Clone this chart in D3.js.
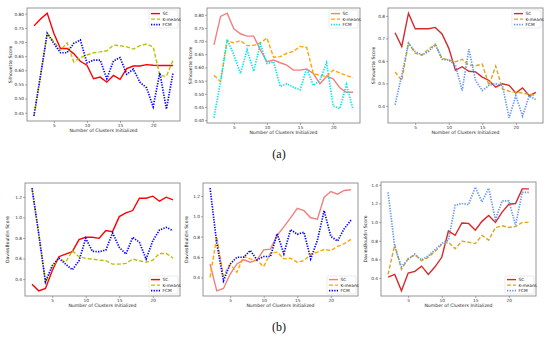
<!DOCTYPE html>
<html>
<head>
<meta charset="utf-8">
<script src="https://cdn.jsdelivr.net/npm/d3@7"></script>
<style>
  body { margin: 0; background: #fff; }
  svg { display: block; }
  .tick text { font-family: "DejaVu Sans", sans-serif; fill: #333; }
  .tick line { stroke: #333; stroke-width: 0.5; }
  .ax-label { font-family: "DejaVu Sans", sans-serif; font-size: 4.6px; fill: #222; }
  .leg text { font-family: "DejaVu Sans", sans-serif; font-size: 4.3px; fill: #222; }
  .cap { font-family: "Liberation Serif", "Times New Roman", serif; font-size: 12px; fill: #111; }
</style>
</head>
<body>
<div id="chart"></div>
<script>
/* ── data ── */
const clusters = [2, 3, 4, 5, 6, 7, 8, 9, 10, 11, 12, 13, 14, 15, 16, 17, 18, 19, 20, 21, 22, 23];
const xTicks   = [5, 10, 15, 20];
const seriesNames = ['SC', 'K-means', 'FCM'];

// (a) silhouette, dataset 1
const silA_sc  = [0.757, 0.781, 0.802, 0.731, 0.677, 0.677, 0.659, 0.632, 0.618, 0.570, 0.576, 0.558, 0.582, 0.568, 0.606, 0.615, 0.615, 0.620, 0.618, 0.617, 0.617, 0.617];
const silA_km  = [0.439, 0.582, 0.731, 0.701, 0.671, 0.697, 0.630, 0.645, 0.654, 0.662, 0.665, 0.669, 0.689, 0.687, 0.683, 0.675, 0.687, 0.693, 0.683, 0.582, 0.579, 0.636];
const silA_fcm = [0.439, 0.582, 0.731, 0.695, 0.662, 0.662, 0.695, 0.707, 0.626, 0.636, 0.636, 0.570, 0.633, 0.645, 0.586, 0.604, 0.558, 0.538, 0.471, 0.591, 0.463, 0.591];
// (a) silhouette, dataset 2
const silB_sc  = [0.686, 0.794, 0.806, 0.747, 0.728, 0.719, 0.719, 0.667, 0.622, 0.628, 0.618, 0.609, 0.590, 0.590, 0.594, 0.577, 0.538, 0.566, 0.557, 0.523, 0.506, 0.506];
const silB_km  = [0.570, 0.547, 0.703, 0.693, 0.702, 0.683, 0.684, 0.693, 0.712, 0.639, 0.641, 0.654, 0.661, 0.680, 0.676, 0.577, 0.570, 0.566, 0.590, 0.579, 0.570, 0.560];
const silB_fcm = [0.409, 0.547, 0.706, 0.648, 0.577, 0.667, 0.586, 0.689, 0.615, 0.622, 0.528, 0.538, 0.525, 0.515, 0.596, 0.532, 0.551, 0.618, 0.454, 0.444, 0.535, 0.441];
// (a) silhouette, dataset 3
const silC_sc  = [0.725, 0.664, 0.812, 0.743, 0.743, 0.743, 0.749, 0.720, 0.657, 0.558, 0.574, 0.554, 0.551, 0.528, 0.513, 0.483, 0.498, 0.491, 0.457, 0.480, 0.445, 0.460];
const silC_km  = [0.551, 0.513, 0.679, 0.634, 0.626, 0.652, 0.675, 0.611, 0.604, 0.596, 0.607, 0.581, 0.578, 0.586, 0.491, 0.577, 0.475, 0.465, 0.460, 0.457, 0.450, 0.448];
const silC_fcm = [0.405, 0.536, 0.679, 0.642, 0.626, 0.642, 0.672, 0.607, 0.604, 0.581, 0.468, 0.652, 0.513, 0.468, 0.491, 0.498, 0.491, 0.347, 0.445, 0.355, 0.445, 0.427];
// (b) Davies-Bouldin, dataset 1
const dbA_sc  = [0.351, 0.286, 0.309, 0.481, 0.618, 0.644, 0.667, 0.784, 0.807, 0.807, 0.797, 0.872, 0.862, 1.008, 1.044, 1.067, 1.187, 1.187, 1.207, 1.158, 1.197, 1.171];
const dbA_km  = [1.278, 0.839, 0.367, 0.514, 0.605, 0.563, 0.676, 0.618, 0.602, 0.595, 0.585, 0.579, 0.546, 0.546, 0.553, 0.595, 0.579, 0.563, 0.585, 0.650, 0.650, 0.605];
const dbA_fcm = [1.285, 0.839, 0.374, 0.530, 0.605, 0.546, 0.491, 0.579, 0.797, 0.670, 0.667, 0.683, 0.849, 0.709, 0.644, 0.807, 0.758, 0.595, 0.774, 0.878, 0.904, 0.872];
// (b) Davies-Bouldin, dataset 2
const dbB_sc  = [0.532, 0.268, 0.291, 0.433, 0.532, 0.572, 0.549, 0.572, 0.671, 0.678, 0.813, 0.896, 0.985, 1.078, 1.055, 0.985, 0.972, 1.187, 1.243, 1.217, 1.253, 1.260];
const dbB_km  = [0.400, 0.797, 0.417, 0.526, 0.450, 0.605, 0.582, 0.565, 0.506, 0.638, 0.648, 0.582, 0.588, 0.549, 0.565, 0.625, 0.648, 0.674, 0.664, 0.704, 0.731, 0.774];
const dbB_fcm = [1.276, 0.737, 0.367, 0.532, 0.598, 0.598, 0.664, 0.572, 0.605, 0.605, 0.830, 0.631, 0.869, 0.823, 0.843, 0.582, 0.764, 1.055, 0.803, 0.757, 0.879, 0.962];
// (b) Davies-Bouldin, dataset 3
const dbC_sc  = [0.411, 0.440, 0.264, 0.455, 0.473, 0.528, 0.440, 0.521, 0.623, 0.905, 0.858, 0.990, 0.986, 0.913, 1.008, 1.070, 0.997, 1.107, 1.191, 1.199, 1.356, 1.356];
const dbC_km  = [0.440, 0.759, 0.492, 0.612, 0.649, 0.587, 0.623, 0.686, 0.759, 0.785, 0.715, 0.796, 0.785, 0.770, 0.858, 0.807, 0.942, 0.960, 0.942, 0.953, 0.997, 0.997];
const dbC_fcm = [1.319, 0.733, 0.521, 0.601, 0.656, 0.594, 0.638, 0.704, 0.770, 0.807, 1.180, 1.199, 1.188, 1.374, 1.217, 1.363, 1.026, 1.228, 1.228, 0.968, 1.319, 1.319];

const silTicks2 = [0.45, 0.50, 0.55, 0.60, 0.65, 0.70, 0.75, 0.80];
const silTicksB = [0.40, 0.45, 0.50, 0.55, 0.60, 0.65, 0.70, 0.75, 0.80];
const silTicksC = [0.4, 0.5, 0.6, 0.7, 0.8];
const dbTicks   = [0.4, 0.6, 0.8, 1.0, 1.2];
const dbTicksC  = [0.4, 0.6, 0.8, 1.0, 1.2, 1.4];

/* ── colour sets ── */
const palA = ['#ff0000', '#bfbf00', '#0000ff'];
const palB = ['#f08080', '#ffa500', '#00e5e5'];
const palB2 = ['#f08080', '#ffa500', '#0000ff'];
const palC = ['#d42a2a', '#daa520', '#6495ed'];

const W = 550, H = 341;
const svg = d3.select('#chart').append('svg').attr('width', W).attr('height', H);

const panels = [
    { data: [silA_sc, silA_km, silA_fcm], box: [27, 180, 8, 121],  ticks: silTicks2, fmt: '.2f', ylab: 'Silhouette Score',    labX: 12,  pal: palA,  leg: 'top' },
    { data: [silB_sc, silB_km, silB_fcm], box: [207, 360, 8, 123], ticks: silTicksB, fmt: '.2f', ylab: 'Silhouette Score',    labX: 192, pal: palB,  leg: 'top' },
    { data: [silC_sc, silC_km, silC_fcm], box: [388, 543, 8, 123], ticks: silTicksC, fmt: '.1f', ylab: 'Silhouette Score',    labX: 375, pal: palC,  leg: 'top' },
    { data: [dbA_sc, dbA_km, dbA_fcm],    box: [25, 180, 183, 296], ticks: dbTicks,  fmt: '.1f', ylab: 'DaviesBouldin Score', labX: 9,   pal: palA,  leg: 'bottom' },
    { data: [dbB_sc, dbB_km, dbB_fcm],    box: [203, 358, 183, 296], ticks: dbTicks, fmt: '.1f', ylab: 'DaviesBouldin Score', labX: 188, pal: palB2, leg: 'bottom' },
    { data: [dbC_sc, dbC_km, dbC_fcm],    box: [381, 536, 182, 296], ticks: dbTicksC, fmt: '.1f', ylab: 'DaviesBouldin Score', labX: 367, pal: palC, leg: 'bottom' }
];

const dashes = [null, '4,2', '1.3,1.3'];
const widths = [1.4, 1.4, 1.7];

function drawPanel(p) {
    const [L, R, T, B] = p.box;
    const g = svg.append('g');

    const [lo, hi] = d3.extent(p.data.flat());
    const pad = (hi - lo) * 0.05;
    const x = d3.scaleLinear().domain([2 - 1.05, 23 + 1.05]).range([L, R]);
    const y = d3.scaleLinear().domain([lo - pad, hi + pad]).range([B, T]);

    const xa = g.append('g').attr('transform', `translate(0,${B})`)
        .call(d3.axisBottom(x).tickValues(xTicks).tickSize(1.8).tickPadding(1.2));
    const ya = g.append('g').attr('transform', `translate(${L},0)`)
        .call(d3.axisLeft(y).tickValues(p.ticks).tickFormat(d3.format(p.fmt)).tickSize(1.8).tickPadding(1.2));
    [xa, ya].forEach(a => {
        a.select('.domain').remove();
        a.selectAll('text').style('font-size', '4.3px');
    });

    const line = d3.line().x((d, i) => x(clusters[i])).y(d => y(d));
    p.data.forEach((s, k) => {
        g.append('path').datum(s)
            .attr('d', line)
            .attr('fill', 'none')
            .attr('stroke', p.pal[k])
            .attr('stroke-width', widths[k])
            .attr('stroke-dasharray', dashes[k]);
    });

    g.append('rect')
        .attr('x', L).attr('y', T).attr('width', R - L).attr('height', B - T)
        .attr('fill', 'none').attr('stroke', '#8a8a8a').attr('stroke-width', 0.9);

    g.append('text').attr('class', 'ax-label')
        .attr('x', (L + R) / 2).attr('y', B + 11)
        .attr('text-anchor', 'middle')
        .text('Number of Clusters Initialized');
    g.append('text').attr('class', 'ax-label')
        .attr('transform', `translate(${p.labX},${(T + B) / 2}) rotate(-90)`)
        .attr('text-anchor', 'middle')
        .text(p.ylab);

    /* legend */
    const lw = 29, lh = 18;
    const lx = R - lw - 2;
    const ly = p.leg === 'top' ? T + 2 : B - lh - 2;
    const lg = g.append('g').attr('class', 'leg');
    lg.append('rect').attr('x', lx).attr('y', ly).attr('width', lw).attr('height', lh)
        .attr('rx', 1).attr('fill', '#fff').attr('fill-opacity', 0.85)
        .attr('stroke', '#d6d6d6').attr('stroke-width', 0.5);
    seriesNames.forEach((n, k) => {
        const yy = ly + 3.6 + k * 5.5;
        lg.append('line').attr('x1', lx + 2).attr('x2', lx + 11).attr('y1', yy).attr('y2', yy)
            .attr('stroke', p.pal[k]).attr('stroke-width', widths[k])
            .attr('stroke-dasharray', dashes[k]);
        lg.append('text').attr('x', lx + 13.5).attr('y', yy + 1.5).text(n);
    });
}

panels.forEach(drawPanel);

svg.append('text').attr('class', 'cap').attr('x', 279).attr('y', 158).attr('text-anchor', 'middle').text('(a)');
svg.append('text').attr('class', 'cap').attr('x', 279).attr('y', 331).attr('text-anchor', 'middle').text('(b)');
</script>
</body>
</html>
